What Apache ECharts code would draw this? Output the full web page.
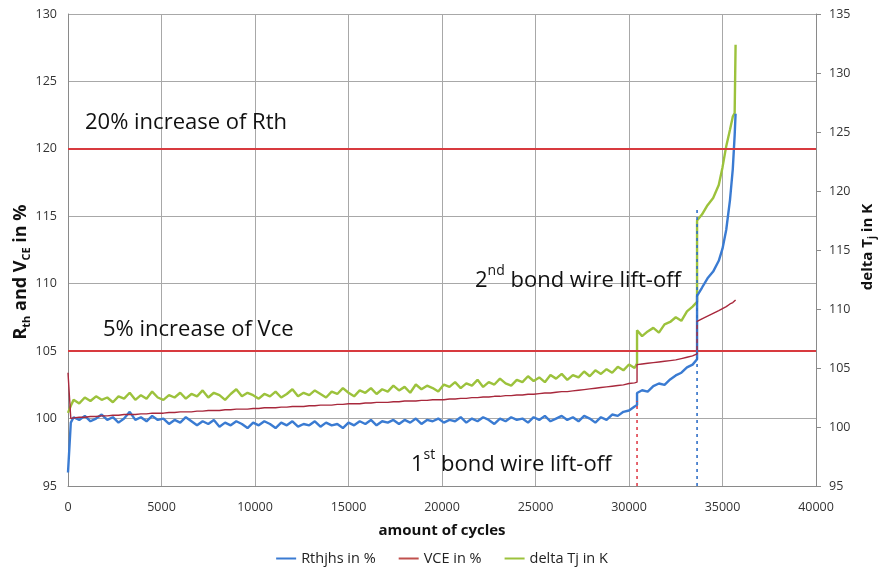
<!DOCTYPE html>
<html>
<head>
<meta charset="utf-8">
<script src="https://cdn.jsdelivr.net/npm/echarts@6/dist/echarts.min.js"></script>
<style>
html,body{margin:0;padding:0;background:#fff;}
#c{width:884px;height:578px;}
</style>
</head>
<body>
<div id="c"></div>
<script>
// x values (amount of cycles)
var cycles = [
  0,150,300,600,900,1200,1500,1800,2100,2400,
  2700,3000,3300,3600,3900,4200,4500,4800,5100,5400,
  5700,6000,6300,6600,6900,7200,7500,7800,8100,8400,
  8700,9000,9300,9600,9900,10200,10500,10800,11100,11400,
  11700,12000,12300,12600,12900,13200,13500,13800,14100,14400,
  14700,15000,15300,15600,15900,16200,16500,16800,17100,17400,
  17700,18000,18300,18600,18900,19200,19500,19800,20100,20400,
  20700,21000,21300,21600,21900,22200,22500,22800,23100,23400,
  23700,24000,24300,24600,24900,25200,25500,25800,26100,26400,
  26700,27000,27300,27600,27900,28200,28500,28800,29100,29400,
  29700,30000,30300,
  30430,30430,30700,31000,31300,31600,31900,32200,32500,32800,33100,33400,33640,
  33640,33900,34200,34500,34800,35000,35200,35400,35550,35650,35700
];
// Rthjhs in % (left axis)
var rth = [
  96.0,99.7,100.1,99.9,100.2,99.8,100.0,100.3,99.9,100.1,
  99.7,100.0,100.5,99.9,100.1,99.8,100.2,99.9,100.0,99.6,
  99.9,99.7,100.1,99.8,99.5,99.8,99.6,99.9,99.4,99.7,
  99.5,99.8,99.6,99.3,99.7,99.5,99.8,99.6,99.3,99.7,
  99.5,99.8,99.4,99.6,99.5,99.8,99.4,99.7,99.5,99.6,
  99.3,99.7,99.5,99.8,99.6,99.9,99.5,99.8,99.7,99.9,
  99.6,99.9,99.7,100.0,99.6,99.9,99.8,100.0,99.7,99.9,
  99.8,100.1,99.7,100.0,99.8,100.1,99.9,99.6,100.0,99.8,
  100.1,99.9,100.0,99.7,100.1,99.9,100.2,99.8,100.0,100.2,
  99.9,100.1,99.8,100.2,100.0,99.7,100.1,99.9,100.3,100.2,
  100.5,100.6,100.9,
  101.0,101.9,102.1,102.0,102.4,102.6,102.5,102.9,103.2,103.4,103.8,104.0,104.4,
  109.1,109.7,110.4,110.9,111.7,112.6,114.0,116.2,118.5,121.0,122.6
];
// VCE in % (left axis)
var vce = [
  103.4,100.0,100.05,100.1,100.1,100.15,100.15,100.2,100.2,100.25,
  100.25,100.3,100.3,100.3,100.35,100.35,100.4,100.4,100.4,100.45,
  100.45,100.5,100.5,100.5,100.55,100.55,100.6,100.6,100.6,100.65,
  100.65,100.7,100.7,100.7,100.75,100.75,100.8,100.8,100.8,100.85,
  100.85,100.9,100.9,100.9,100.95,100.95,101.0,101.0,101.0,101.05,
  101.05,101.1,101.1,101.1,101.15,101.15,101.2,101.2,101.2,101.25,
  101.25,101.3,101.3,101.3,101.35,101.35,101.4,101.4,101.4,101.45,
  101.45,101.5,101.5,101.55,101.55,101.6,101.6,101.65,101.65,101.7,
  101.7,101.75,101.75,101.8,101.8,101.85,101.9,101.9,101.95,102.0,
  102.0,102.05,102.1,102.15,102.2,102.25,102.3,102.35,102.4,102.45,
  102.5,102.6,102.65,
  102.7,104.0,104.05,104.1,104.15,104.2,104.25,104.3,104.35,104.45,104.55,104.65,104.8,
  107.2,107.4,107.6,107.8,108.0,108.15,108.3,108.5,108.6,108.7,108.8
];
// delta Tj in K (right axis)
var deltaTj = [
  101.2,101.8,102.3,102.0,102.5,102.2,102.6,102.3,102.5,102.1,
  102.6,102.4,102.9,102.3,102.7,102.4,103.0,102.5,102.3,102.7,
  102.5,102.9,102.4,102.8,102.6,103.1,102.5,102.9,102.7,102.3,
  102.8,103.2,102.6,102.9,102.7,102.4,102.8,102.6,103.0,102.5,
  102.8,103.2,102.6,102.9,102.7,103.1,102.8,102.5,103.0,102.8,
  103.3,102.9,102.6,103.1,102.9,103.3,102.8,103.2,103.0,103.5,
  103.1,103.4,102.9,103.6,103.2,103.5,103.3,103.0,103.6,103.4,
  103.8,103.3,103.7,103.5,104.0,103.4,103.8,103.6,104.1,103.7,
  103.5,104.0,103.8,104.3,103.9,104.2,103.8,104.4,104.1,104.5,
  104.0,104.4,104.2,104.7,104.3,104.8,104.5,104.9,104.6,105.1,
  104.8,105.3,105.0,
  105.4,108.2,107.7,108.1,108.4,108.0,108.7,108.9,109.3,109.0,109.8,110.2,110.6,
  117.5,118.0,118.8,119.4,120.5,122.0,123.8,125.2,126.3,126.6,132.4
];
// threshold lines (left axis, %)
var thresholds = [120, 105];
// bond wire lift-off markers: cycle and top of dotted line (left axis)
var liftCycles = [30430, 33640];
var liftTops = [101.3, 115.6];
var xTicks = {min: 0, max: 40000, interval: 5000};
var leftTicks = {min: 95, max: 130, interval: 5};
var rightTicks = {min: 95, max: 135, interval: 5};

function zip(xs, ys){ var out=[]; for (var i=0;i<xs.length;i++) out.push([xs[i], ys[i]]); return out; }

var FONT = '"Open Sans"';
var chart = echarts.init(document.getElementById('c'), null, {renderer:'canvas'});
var supRich = {
  m: {fontFamily: FONT, fontSize: 22, lineHeight: 28, verticalAlign: 'bottom', fill: '#111'},
  p: {fontFamily: FONT, fontSize: 14, lineHeight: 16, verticalAlign: 'top', fill: '#111'}
};
var option = {
  animation: false,
  backgroundColor: '#ffffff',
  grid: {left: 68, right: 68, top: 14, bottom: 92, containLabel: false},
  legend: {
    top: 546, left: 'center',
    data: ['Rthjhs in %', 'VCE in %', 'delta Tj in K'],
    icon: 'rect', itemWidth: 20, itemHeight: 2, itemGap: 23,
    textStyle: {fontFamily: FONT, fontSize: 14.5, color: '#222'}
  },
  xAxis: {
    type: 'value', min: xTicks.min, max: xTicks.max, interval: xTicks.interval,
    name: 'amount of cycles', nameLocation: 'middle', nameGap: 37,
    nameTextStyle: {fontFamily: FONT, fontSize: 15, fontWeight: 'bold', color: '#111'},
    axisLine: {show: true, lineStyle: {color: '#8a8a8a', width: 1}},
    axisTick: {show: false},
    axisLabel: {margin: 15, fontFamily: FONT, fontSize: 12.5, color: '#333',
      formatter: function(v){ return String(v); }},
    splitLine: {show: true, lineStyle: {color: '#a8a8a8', width: 1}}
  },
  yAxis: [{
    type: 'value', position: 'left', min: leftTicks.min, max: leftTicks.max, interval: leftTicks.interval,
    axisLine: {show: true, lineStyle: {color: '#8a8a8a', width: 1}},
    axisTick: {show: false},
    axisLabel: {margin: 11, fontFamily: FONT, fontSize: 12.5, color: '#333'},
    splitLine: {show: true, lineStyle: {color: '#a8a8a8', width: 1}}
  }, {
    type: 'value', position: 'right', min: rightTicks.min, max: rightTicks.max, interval: rightTicks.interval,
    axisLine: {show: true, lineStyle: {color: '#8a8a8a', width: 1}},
    axisTick: {show: true, inside: false, length: 5, lineStyle: {color: '#8a8a8a'}},
    axisLabel: {margin: 13, fontFamily: FONT, fontSize: 12.5, color: '#333'},
    splitLine: {show: false}
  }],
  series: [{
    name: 'delta Tj in K', type: 'line', yAxisIndex: 1, showSymbol: false, symbol: 'none',
    data: zip(cycles, deltaTj), color: '#9cc23c',
    lineStyle: {color: '#9cc23c', width: 2.4}, z: 2
  }, {
    name: 'Rthjhs in %', type: 'line', yAxisIndex: 0, showSymbol: false, symbol: 'none',
    data: zip(cycles, rth), color: '#3a7bd2',
    lineStyle: {color: '#3a7bd2', width: 2.4}, z: 3
  }, {
    name: 'VCE in %', type: 'line', yAxisIndex: 0, showSymbol: false, symbol: 'none',
    data: zip(cycles, vce), color: '#c0504d',
    lineStyle: {color: '#a8283c', width: 1.4}, z: 4,
    markLine: {
      silent: true, symbol: 'none', label: {show: false},
      lineStyle: {color: '#d83a3f', width: 2, type: 'solid'},
      data: thresholds.map(function(v){ return {yAxis: v}; })
    }
  }, {
    name: 'lift1', type: 'line', yAxisIndex: 0, showSymbol: false, symbol: 'none',
    data: [[liftCycles[0], leftTicks.min], [liftCycles[0], liftTops[0]]],
    lineStyle: {color: '#e0404a', width: 1.6, type: [3, 4]}, z: 5
  }, {
    name: 'lift2', type: 'line', yAxisIndex: 0, showSymbol: false, symbol: 'none',
    data: [[liftCycles[1], leftTicks.min], [liftCycles[1], liftTops[1]]],
    lineStyle: {color: '#2f6fc8', width: 1.6, type: [3, 4]}, z: 5
  }],
  graphic: [{
    type: 'text', x: 21, y: 272, rotation: Math.PI / 2, z: 10,
    style: {
      text: '{b|R}{s|th}{b| and V}{s|CE}{b| in %}', align: 'center', verticalAlign: 'middle',
      rich: {
        b: {fontFamily: FONT, fontSize: 18, fontWeight: 'bold', fill: '#111', lineHeight: 22, verticalAlign: 'middle'},
        s: {fontFamily: FONT, fontSize: 11, fontWeight: 'bold', fill: '#111', lineHeight: 13, verticalAlign: 'bottom'}
      }
    }
  }, {
    type: 'text', x: 868, y: 247, rotation: Math.PI / 2, z: 10,
    style: {
      text: '{b|delta T}{s|j}{b| in K}', align: 'center', verticalAlign: 'middle',
      rich: {
        b: {fontFamily: FONT, fontSize: 15, fontWeight: 'bold', fill: '#111', lineHeight: 19, verticalAlign: 'middle'},
        s: {fontFamily: FONT, fontSize: 10, fontWeight: 'bold', fill: '#111', lineHeight: 12, verticalAlign: 'bottom'}
      }
    }
  }, {
    type: 'text', left: 85, top: 112, z: 10,
    style: {text: '20% increase of Rth', fontFamily: FONT, fontSize: 22, fill: '#111'}
  }, {
    type: 'text', left: 103, top: 319, z: 10,
    style: {text: '5% increase of Vce', fontFamily: FONT, fontSize: 22, fill: '#111'}
  }, {
    type: 'text', left: 475, top: 264, z: 10,
    style: {text: '{m|2}{p|nd}{m| bond wire lift-off}', fill: '#111', rich: supRich}
  }, {
    type: 'text', left: 411, top: 448, z: 10,
    style: {text: '{m|1}{p|st}{m| bond wire lift-off}', fill: '#111', rich: supRich}
  }]
};
chart.setOption(option);
</script>
</body>
</html>
